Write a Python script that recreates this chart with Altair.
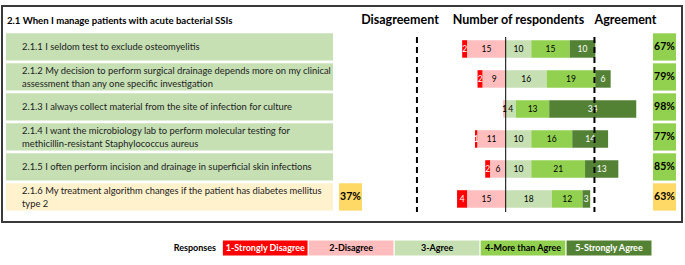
import altair as alt
import pandas as pd

# ---------------- data ----------------
ids = ["2.1.1", "2.1.2", "2.1.3", "2.1.4", "2.1.5", "2.1.6"]
labels = [
    "2.1.1 I seldom test to exclude osteomyelitis",
    "2.1.2 My decision to perform surgical drainage depends more on my clinical\nassessment than any one specific investigation",
    "2.1.3 I always collect material from the site of infection for culture",
    "2.1.4 I want the microbiology lab to perform molecular testing for\nmethicillin-resistant Staphylococcus aureus",
    "2.1.5 I often perform incision and drainage in superficial skin infections",
    "2.1.6 My treatment algorithm changes if the patient has diabetes mellitus\ntype 2",
]
section_title = "2.1 When I manage patients with acute bacterial SSIs"
responses = ["1-Strongly Disagree", "2-Disagree", "3-Agree", "4-More than Agree", "5-Strongly Agree"]
strongly_disagree = [2, 2, 0, 1, 2, 4]
disagree = [15, 9, 1, 11, 6, 15]
agree = [10, 16, 4, 10, 10, 18]
more_than_agree = [15, 19, 13, 16, 21, 12]
strongly_agree = [10, 6, 34, 14, 13, 3]
agreement_pct = ["67%", "79%", "98%", "77%", "85%", "63%"]
disagreement_pct = ["33%", "21%", "2%", "23%", "15%", "37%"]
respondents = 52
consensus_share = 2 / 3

colors = ["#FF0000", "#FFBDBD", "#C6E0B4", "#92D050", "#548235"]
text_colors = ["white", "black", "black", "black", "white"]
FONT = "Lato"

# ---------------- tables ----------------
series = [strongly_disagree, disagree, agree, more_than_agree, strongly_agree]
seg_rows = []
for i, qid in enumerate(ids):
    start = -(strongly_disagree[i] + disagree[i])
    for k, resp in enumerate(responses):
        v = series[k][i]
        seg_rows.append(dict(id=qid, response=resp, value=v, x0=start, x1=start + v,
                             mid=start + v / 2, fill=colors[k], tcol=text_colors[k]))
        start += v
seg = pd.DataFrame(seg_rows)
seg_lab = seg[seg.value > 0]

rows = []
for i, qid in enumerate(ids):
    agreed = agree[i] + more_than_agree[i] + strongly_agree[i]
    cons = agreed / respondents >= consensus_share
    parts = labels[i].split("\n")
    rows.append(dict(id=qid, line1=parts[0], line2=parts[1] if len(parts) > 1 else "",
                     nlines=len(parts), agree=agreement_pct[i], disagree=disagreement_pct[i],
                     boxfill="#C6E0B4" if cons else "#FFF2CC",
                     pctfill="#92D050" if cons else "#FFD966", cons=cons))
rows = pd.DataFrame(rows)
noncons = rows[~rows.cons]
one_line = rows[rows.nlines == 1]
two_line = rows[rows.nlines == 2]

legend_df = pd.DataFrame(dict(response=responses, fill=colors, tcol=text_colors))
thr = pd.DataFrame(dict(x=[-respondents * consensus_share, respondents * consensus_share]))
zero = pd.DataFrame(dict(x=[0]))

# ---------------- scales ----------------
xscale = alt.Scale(domain=[-197.54, 70.04], nice=False, zero=False)
yscale = alt.Scale(type="band", domain=ids, range=[33.3, 210.6], paddingInner=0.09, paddingOuter=0)
Y = alt.Y("id:N", scale=yscale, axis=None)

# ---------------- layers ----------------
border = alt.Chart(zero).mark_rect(fill=None, stroke="#3a3a3a", strokeWidth=2).encode(
    x=alt.value(2), x2=alt.value(682), y=alt.value(6), y2=alt.value(222))

title_txt = alt.Chart(zero).mark_text(align="left", baseline="middle", font=FONT, fontWeight="bold",
                                      fontSize=9.6, color="black").encode(
    x=alt.value(7), y=alt.value(20.5), text=alt.value(section_title))

hdr = pd.DataFrame(dict(t=["Disagreement", "Number of respondents", "Agreement"], px=[400, 518.5, 625.5]))
headers = alt.Chart(hdr).mark_text(align="center", baseline="middle", font=FONT, fontWeight="bold",
                                   fontSize=12.5, color="black").encode(
    x=alt.X("px:Q", scale=alt.Scale(domain=[0, 685], range=[0, 685], nice=False, zero=False), axis=None),
    y=alt.value(20), text="t:N")

label_boxes = alt.Chart(rows).mark_rect().encode(
    x=alt.value(6), x2=alt.value(333), y=Y, color=alt.Color("boxfill:N", scale=None))

lab_style = dict(align="left", baseline="middle", font=FONT, fontSize=9.4, color="#222222")
label_one = alt.Chart(one_line).mark_text(**lab_style).encode(x=alt.value(22), y=Y, text="line1:N")
label_two_a = alt.Chart(two_line).mark_text(dy=-6.4, **lab_style).encode(x=alt.value(22), y=Y, text="line1:N")
label_two_b = alt.Chart(two_line).mark_text(dy=6.9, **lab_style).encode(x=alt.value(22), y=Y, text="line2:N")

bars = alt.Chart(seg).mark_bar(height=17.5, yOffset=2).encode(
    x=alt.X("x0:Q", scale=xscale, axis=None), x2="x1:Q", y=Y,
    color=alt.Color("fill:N", scale=None))

bar_text = alt.Chart(seg_lab).mark_text(baseline="middle", font=FONT, fontSize=8.5, yOffset=2).encode(
    x=alt.X("mid:Q", scale=xscale, axis=None), y=Y, text="value:Q",
    color=alt.Color("tcol:N", scale=None))

zero_rule = alt.Chart(zero).mark_rule(color="black", strokeWidth=1).encode(
    x=alt.X("x:Q", scale=xscale, axis=None), y=alt.value(37), y2=alt.value(212))

thr_rule = alt.Chart(thr).mark_rule(color="black", strokeWidth=2, strokeDash=[6, 4]).encode(
    x=alt.X("x:Q", scale=xscale, axis=None), y=alt.value(37), y2=alt.value(212))

agree_box = alt.Chart(rows).mark_rect().encode(
    x=alt.value(653), x2=alt.value(676), y=Y, color=alt.Color("pctfill:N", scale=None))
agree_txt = alt.Chart(rows).mark_text(baseline="middle", font=FONT, fontWeight="bold", fontSize=10.5,
                                      color="black").encode(
    x=alt.value(664.5), y=Y, text="agree:N")

dis_box = alt.Chart(noncons).mark_rect().encode(
    x=alt.value(339), x2=alt.value(362), y=Y, color=alt.Color("pctfill:N", scale=None))
dis_txt = alt.Chart(noncons).mark_text(baseline="middle", font=FONT, fontWeight="bold", fontSize=10.5,
                                       color="black").encode(
    x=alt.value(350.5), y=Y, text="disagree:N")

lx = alt.X("response:N", scale=alt.Scale(type="band", domain=responses, range=[222.3, 652],
                                         paddingInner=0, paddingOuter=0), axis=None)
leg_box = alt.Chart(legend_df).mark_rect(stroke="white", strokeWidth=1).encode(
    x=lx, y=alt.value(240), y2=alt.value(256), color=alt.Color("fill:N", scale=None))
leg_txt = alt.Chart(legend_df).mark_text(baseline="middle", font=FONT, fontWeight="bold", fontSize=9).encode(
    x=lx, y=alt.value(248), text="response:N", color=alt.Color("tcol:N", scale=None))
leg_title = alt.Chart(zero).mark_text(align="right", baseline="middle", font=FONT, fontWeight="bold",
                                      fontSize=9, color="black").encode(
    x=alt.value(216), y=alt.value(248), text=alt.value("Responses"))

chart = alt.layer(
    border, title_txt, headers, label_boxes, label_one, label_two_a, label_two_b, bars, bar_text,
    zero_rule, thr_rule, agree_box, agree_txt, dis_box, dis_txt, leg_box, leg_txt, leg_title
).resolve_scale(x="independent").properties(
    width=685, height=265, autosize="none", padding=0, background="white"
).configure_view(stroke=None)

chart.save("out.html", embed_options={"renderer": "svg", "actions": False})
